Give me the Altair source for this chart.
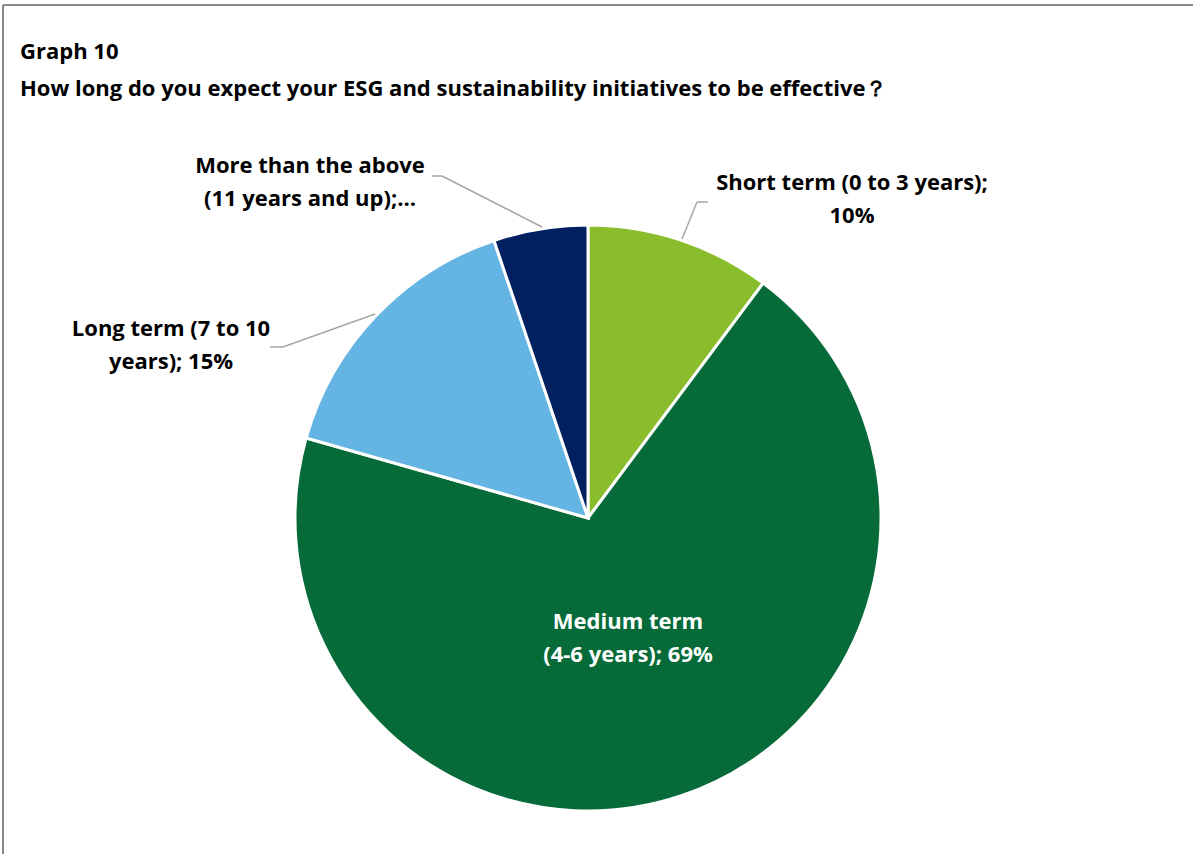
import altair as alt
import pandas as pd

# ---- data ----
categories = [
    "Short term (0 to 3 years)",
    "Medium term (4-6 years)",
    "Long term (7 to 10 years)",
    "More than the above (11 years and up)",
]
values = [10.2, 69.2, 15.4, 5.2]
label_texts = [
    ["Short term (0 to 3 years);", "10%"],
    ["Medium term", "(4-6 years); 69%"],
    ["Long term (7 to 10", "years); 15%"],
    ["More than the above", "(11 years and up);…"],
]
colors = ["#8ABD2B", "#066B38", "#64B4E4", "#002060"]
label_colors = ["#000000", "#FFFFFF", "#000000", "#000000"]

title_lines = ["Graph 10",
               "How long do you expect your ESG and sustainability initiatives to be effective？"]

# ---- layout (pixels) ----
W, H = 1193, 854
CX, CY, R = 588, 518, 293
label_pos = [(852, 183), (628, 622), (171, 329), (310, 166)]
LINE_H = 33
leaders = [  # polylines (x, y) points
    [(708, 202), (697, 202), (682, 239)],
    [(270, 347), (283, 347), (375, 314)],
    [(432, 176), (442, 176), (542, 227)],
]
FONT = "Open Sans"
FS = 22

pie_df = pd.DataFrame({"category": categories, "value": values, "order": range(len(categories))})

pie = alt.Chart(pie_df).mark_arc(radius=R, stroke="white", strokeWidth=3).encode(
    theta=alt.Theta("value:Q", stack=True),
    order=alt.Order("order:Q"),
    color=alt.Color("category:N", scale=alt.Scale(domain=categories, range=colors), legend=None),
    x=alt.value(CX),
    y=alt.value(CY),
)

rows = []
for i, lines in enumerate(label_texts):
    for j, t in enumerate(lines):
        rows.append({"t": t, "x": label_pos[i][0], "y": label_pos[i][1] + j * LINE_H,
                     "c": label_colors[i]})
lab_df = pd.DataFrame(rows)
labels = alt.Chart(lab_df).mark_text(font=FONT, fontSize=FS, fontWeight="bold",
                                     align="center", baseline="middle").encode(
    x=alt.X("x:Q", scale=None), y=alt.Y("y:Q", scale=None),
    text="t:N", color=alt.Color("c:N", scale=None),
)

seg = []
for k, pts in enumerate(leaders):
    for a, b in zip(pts[:-1], pts[1:]):
        seg.append({"x": a[0], "y": a[1], "x2": b[0], "y2": b[1]})
seg_df = pd.DataFrame(seg)
lead = alt.Chart(seg_df).mark_rule(color="#A6A6A6", strokeWidth=1.5).encode(
    x=alt.X("x:Q", scale=None), y=alt.Y("y:Q", scale=None),
    x2="x2:Q", y2="y2:Q",
)

title_df = pd.DataFrame({"t": title_lines, "x": [20, 20], "y": [52, 89]})
title = alt.Chart(title_df).mark_text(font=FONT, fontSize=FS, fontWeight="bold",
                                      align="left", baseline="middle", color="#000000").encode(
    x=alt.X("x:Q", scale=None), y=alt.Y("y:Q", scale=None), text="t:N",
)

frame_df = pd.DataFrame({"x": [3, 3], "y": [5, 5], "x2": [W, 3], "y2": [5, H]})
frame = alt.Chart(frame_df).mark_rule(color="#878787", strokeWidth=2).encode(
    x=alt.X("x:Q", scale=None), y=alt.Y("y:Q", scale=None),
    x2="x2:Q", y2="y2:Q",
)

chart = alt.layer(frame, pie, lead, labels, title).properties(
    width=W, height=H, padding=0, autosize=alt.AutoSizeParams(type="none"),
    background="white",
).configure_view(stroke=None)

chart.save("out.html", embed_options={"renderer": "svg", "actions": False})
